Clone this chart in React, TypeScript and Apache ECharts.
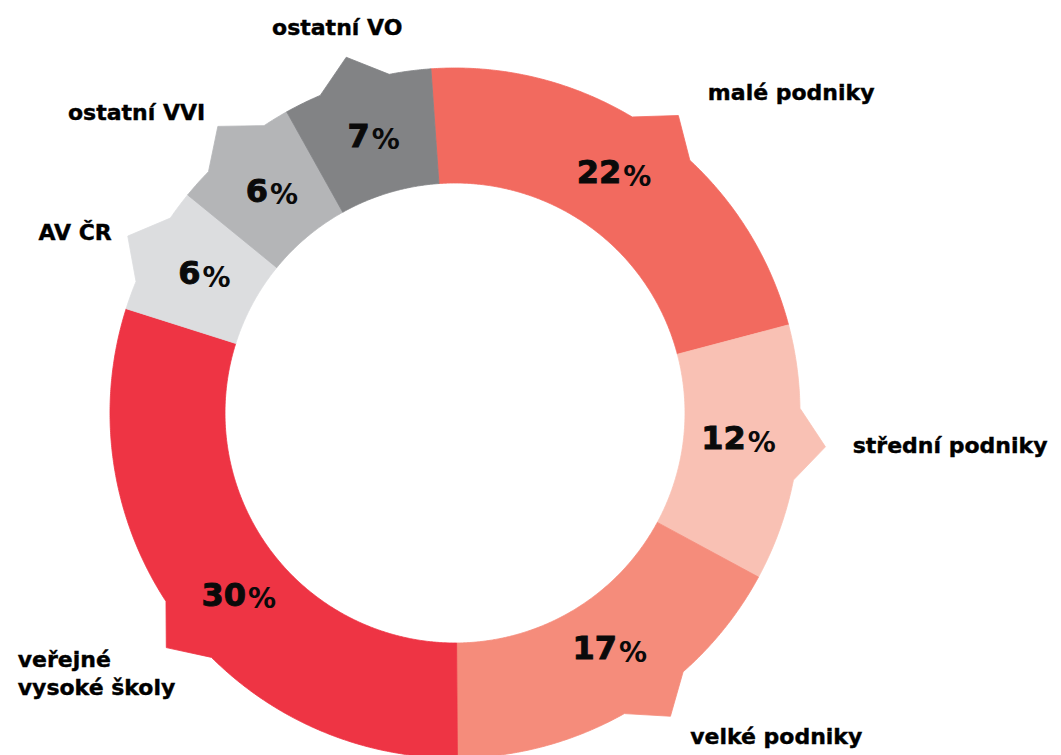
import React, { useEffect, useRef } from 'react';
import * as echarts from 'echarts';

// ---- data ----
const categories = ['malé podniky', 'střední podniky', 'velké podniky', 'veřejné\nvysoké školy', 'AV ČR', 'ostatní VVI', 'ostatní VO'];
const shares = [22, 12, 17, 30, 6, 6, 7];

// ---- styles / layout ----
const colors = ['#F26A5F', '#F9C1B4', '#F58C7B', '#EE3444', '#DCDDDF', '#B4B5B7', '#828385'];
const FONT = '"DejaVu Sans", Verdana, sans-serif';
const CENTER = [455, 413];
const INNER = 230;
const OUTER = 345;
const TIP = 372;
const PCT_R = 285;
const HALF_SPIKE = 6 / 3.6; // in percent-of-circle units
// spike and percent-label angular nudges (percent-of-circle units), label placement
const spikeDa = [0.36, -0.44, -1.22, -0.75, 0, 0.11, -0.11];
const pctDa = [-0.47, -0.25, -0.53, -1.19, 0, 0, 0];
const nameLayout: { r: number; da: number; align: string }[] = [
  { r: 408, da: 0.75, align: 'left' },
  { r: 399, da: -0.61, align: 'left' },
  { r: 400, da: -1.39, align: 'left' },
  { r: 509, da: 1.56, align: 'left' },
  { r: 388, da: -0.17, align: 'right' },
  { r: 391, da: 0.08, align: 'right' },
  { r: 403, da: -0.11, align: 'center' },
];

export default function App() {
  const ref = useRef<HTMLDivElement>(null);
  useEffect(() => {
    document.body.style.margin = '0';
    const chart = echarts.init(ref.current as HTMLDivElement, null, { renderer: 'svg' });
    const total = shares.reduce((a, b) => a + b, 0);
    let acc = 0;
    const data = shares.map((v) => {
      const s = (acc / total) * 100;
      acc += v;
      return [s, (acc / total) * 100, v];
    });

    const renderItem = (params: any, api: any) => {
      const i = params.dataIndex;
      const a0 = api.value(0) as number;
      const a1 = api.value(1) as number;
      const am = (a0 + a1) / 2;
      const as = am + spikeDa[i];
      const pt = (r: number, a: number) => api.coord([r, a]);
      const pts: number[][] = [];
      const STEP = 0.1;
      const arc = (r: number, from: number, to: number) => {
        const n = Math.max(1, Math.ceil(Math.abs(to - from) / STEP));
        for (let k = 0; k <= n; k++) pts.push(pt(r, from + ((to - from) * k) / n));
      };
      arc(OUTER, a0, as - HALF_SPIKE);
      pts.push(pt(TIP, as));
      arc(OUTER, as + HALF_SPIKE, a1);
      arc(INNER, a1, a0);
      const lay = nameLayout[i];
      const np = pt(lay.r, am + lay.da);
      const pp = pt(PCT_R, am + pctDa[i]);
      return {
        type: 'group',
        children: [
          {
            type: 'polygon',
            shape: { points: pts },
            style: { fill: colors[i], stroke: colors[i], lineWidth: 0.8 },
          },
          {
            type: 'text',
            z2: 10,
            style: {
              text: `{n|${api.value(2)}}{p|%}`,
              x: pp[0],
              y: pp[1] - 4,
              align: 'center',
              verticalAlign: 'middle',
              rich: {
                n: { fontSize: 32, fontWeight: 'bold', fontFamily: FONT, fill: '#0a0a0a', stroke: '#0a0a0a', lineWidth: 0.9 },
                p: { fontSize: 28, fontWeight: 'bold', fontFamily: FONT, fill: '#0a0a0a', padding: [8, 0, 0, 2] },
              },
            },
          },
          {
            type: 'text',
            z2: 10,
            style: {
              text: categories[i],
              x: np[0],
              y: np[1],
              align: lay.align,
              verticalAlign: 'middle',
              fontSize: 22,
              fontWeight: 'bold',
              fontFamily: FONT,
              fill: '#000',
              stroke: '#000',
              lineWidth: 0.4,
              lineHeight: 28,
            },
          },
        ],
      };
    };

    chart.setOption({
      animation: false,
      polar: { center: CENTER, radius: 600 },
      angleAxis: { type: 'value', min: 0, max: 100, startAngle: 94, clockwise: true, show: false },
      radiusAxis: { type: 'value', min: 0, max: 600, show: false },
      series: [
        {
          type: 'custom',
          coordinateSystem: 'polar',
          clip: false,
          data,
          renderItem,
        },
      ],
    });
    return () => chart.dispose();
  }, []);
  return <div ref={ref} style={{ width: 1061, height: 755, overflow: 'hidden' }} />;
}
